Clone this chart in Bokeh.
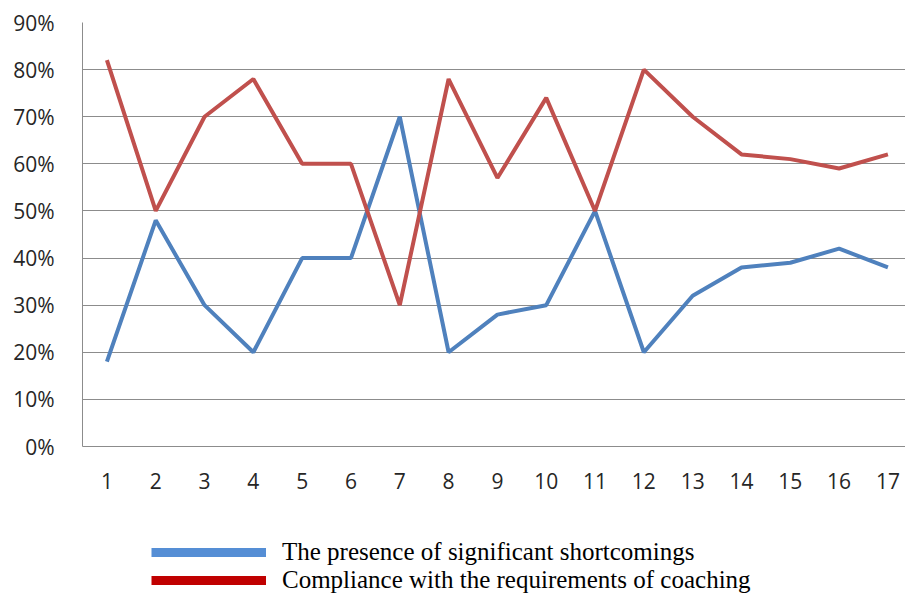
from bokeh.plotting import figure
from bokeh.layouts import column
from bokeh.models import FixedTicker, Range1d, Legend, LegendItem, CustomJSTickFormatter
from bokeh.embed import file_html
from bokeh.resources import INLINE

categories = list(range(1, 18))
shortcomings = [18, 48, 30, 20, 40, 40, 70, 20, 28, 30, 50, 20, 32, 38, 39, 42, 38]
compliance = [82, 50, 70, 78, 60, 60, 30, 78, 57, 74, 50, 80, 70, 62, 61, 59, 62]
y_ticks = [0, 10, 20, 30, 40, 50, 60, 70, 80, 90]
series_names = ["The presence of significant shortcomings",
                "Compliance with the requirements of coaching"]

p = figure(width=905, height=500, output_backend="svg", toolbar_location=None,
           x_range=Range1d(0.5, 17.36), y_range=Range1d(0, 90),
           min_border_left=82, min_border_right=0, min_border_top=22, min_border_bottom=54)
p.outline_line_color = None
p.background_fill_color = "white"
p.border_fill_color = "white"

p.line(categories, shortcomings, line_color="#4F81BD", line_width=4)
p.line(categories, compliance, line_color="#C0504D", line_width=4)

p.xaxis.ticker = FixedTicker(ticks=categories)
p.yaxis.ticker = FixedTicker(ticks=y_ticks)
p.yaxis.formatter = CustomJSTickFormatter(code="return tick + '%';")

for ax in (p.xaxis, p.yaxis):
    ax.axis_line_color = "#8c8c8c"
    ax.axis_line_width = 1
    ax.major_tick_line_color = None
    ax.minor_tick_line_color = None
    ax.major_label_text_font = "Open Sans"
    ax.major_label_text_font_size = "21px"
    ax.major_label_text_color = "#262626"
p.yaxis.major_label_standoff = 22
p.xaxis.major_label_standoff = 20

p.xgrid.grid_line_color = None
p.ygrid.grid_line_color = "#8c8c8c"
p.ygrid.grid_line_width = 1

# legend strip below the chart (series drawn outside the visible range, legend only)
q = figure(width=905, height=94, output_backend="svg", toolbar_location=None,
           x_range=Range1d(-10, -9), y_range=Range1d(-10, -9),
           min_border_left=0, min_border_right=0, min_border_top=0, min_border_bottom=0)
q.axis.visible = False
q.grid.visible = False
q.outline_line_color = None
r1 = q.line(categories, shortcomings, line_color="#558ED5", line_width=9)
r2 = q.line(categories, compliance, line_color="#C00000", line_width=9)
legend = Legend(items=[LegendItem(label=series_names[0], renderers=[r1]),
                       LegendItem(label=series_names[1], renderers=[r2])],
                location=(69, 0), orientation="vertical",
                border_line_color=None, background_fill_alpha=0,
                padding=0, margin=0, spacing=-4,
                glyph_width=115, glyph_height=24, label_standoff=16,
                label_text_font="Liberation Serif", label_text_font_size="25px",
                label_text_color="black", label_height=24)
q.add_layout(legend, "center")

layout = column(p, q, spacing=0)
open("out.html", "w").write(file_html(layout, INLINE))
